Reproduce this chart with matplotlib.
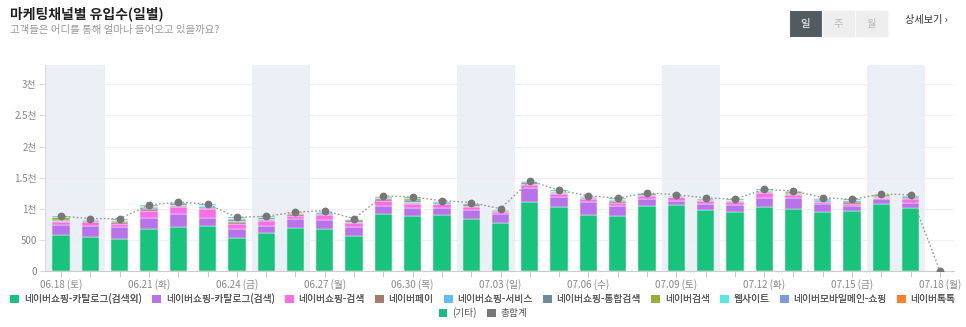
import numpy as np
import matplotlib
matplotlib.use("Agg")
from matplotlib import pyplot as plt
from matplotlib.patches import Rectangle, Patch

plt.rcParams['font.family'] = ['Noto Sans CJK KR', 'DejaVu Sans']

# 일별 유입수 (06.18 ~ 07.18)
dates = ["06.18", "06.19", "06.20", "06.21", "06.22", "06.23", "06.24", "06.25",
         "06.26", "06.27", "06.28", "06.29", "06.30", "07.01", "07.02", "07.03",
         "07.04", "07.05", "07.06", "07.07", "07.08", "07.09", "07.10", "07.11",
         "07.12", "07.13", "07.14", "07.15", "07.16", "07.17", "07.18"]
weekdays = ["토", "일", "월", "화", "수", "목", "금"]

catalog_etc = [584, 547, 515, 681, 702, 724, 525, 611, 691, 675, 557, 922, 884, 900, 836, 772,
               1110, 1029, 906, 884, 1045, 1056, 986, 954, 1029, 997, 954, 959, 1083, 1018, 0]
catalog_search = [156, 182, 187, 166, 215, 134, 145, 118, 140, 145, 151, 129, 124, 113, 145, 145,
                  225, 161, 209, 156, 118, 70, 91, 107, 150, 171, 123, 81, 75, 75, 0]
shop_search = [43, 64, 59, 118, 107, 139, 86, 75, 59, 80, 64, 80, 75, 70, 48, 32,
               43, 54, 37, 59, 48, 59, 43, 43, 70, 49, 38, 43, 21, 65, 0]
npay = [25, 10, 27, 32, 21, 16, 32, 21, 21, 17, 21, 27, 10, 0, 22, 10,
        21, 10, 21, 21, 16, 10, 22, 16, 21, 21, 0, 21, 10, 10, 0]
shop_service = [0, 20, 0, 27, 22, 37, 22, 16, 0, 26, 0, 10, 22, 25, 0, 20,
                0, 0, 16, 0, 0, 0, 0, 0, 10, 0, 21, 32, 0, 43, 0]
shop_total = [15, 12, 15, 10, 21, 0, 21, 22, 16, 10, 22, 21, 20, 10, 21, 11,
              27, 16, 10, 16, 27, 14, 16, 15, 17, 22, 22, 10, 22, 10, 0]
naver_search = [50, 0, 10, 16, 0, 0, 0, 0, 0, 0, 16, 15, 35, 0, 18, 0,
                10, 0, 0, 11, 0, 0, 12, 12, 10, 21, 16, 0, 22, 0, 0]
website = [0, 0, 10, 0, 20, 17, 21, 0, 0, 12, 0, 0, 0, 10, 0, 0,
           8, 15, 0, 10, 0, 16, 0, 0, 0, 0, 0, 0, 0, 0, 0]
mobile_main = [0, 0, 0, 0, 0, 0, 0, 10, 0, 0, 0, 0, 0, 0, 0, 0,
               0, 0, 5, 0, 0, 0, 0, 0, 0, 0, 0, 0, 0, 0, 0]
talktalk = [0, 0, 0, 0, 0, 0, 0, 0, 15, 0, 0, 0, 0, 0, 0, 0,
            0, 0, 0, 0, 0, 0, 0, 0, 0, 0, 0, 0, 0, 0, 0]
others = [7, 7, 17, 10, 0, 8, 8, 7, 3, 5, 9, 6, 20, 2, 10, 10,
          6, 10, 6, 13, 1, 2, 5, 8, 6, 5, 6, 4, 2, 6, 0]
grand_total = [880, 842, 840, 1060, 1108, 1075, 860, 880, 945, 970, 840, 1210, 1190, 1130, 1100, 1000,
               1450, 1295, 1210, 1170, 1255, 1227, 1175, 1155, 1313, 1286, 1180, 1150, 1235, 1227, 0]

series = [
    ("네이버쇼핑-카탈로그(검색외)", catalog_etc, "#18c37c"),
    ("네이버쇼핑-카탈로그(검색)", catalog_search, "#b872ea"),
    ("네이버쇼핑-검색", shop_search, "#f76ee6"),
    ("네이버페이", npay, "#a67b69"),
    ("네이버쇼핑-서비스", shop_service, "#5fbdf2"),
    ("네이버쇼핑-통합검색", shop_total, "#6a8ca1"),
    ("네이버검색", naver_search, "#9aab3b"),
    ("웹사이트", website, "#56e8e6"),
    ("네이버모바일메인-쇼핑", mobile_main, "#7f97df"),
    ("네이버톡톡", talktalk, "#ff7f2b"),
    ("(기타)", others, "#1abf7e"),
]

W, H = 966, 327
fig = plt.figure(figsize=(W / 100, H / 100), dpi=100)
ax = fig.add_axes([45 / W, 1 - 271 / H, (954 - 45) / W, (271 - 65) / H])

x = np.arange(len(dates))

# 주말 음영
for i, d in enumerate(dates):
    if weekdays[i % 7] == "토":
        ax.axvspan(i - 0.5, i + 1.5, color="#ebf0f6", lw=0, zorder=0)

bottom = np.zeros(len(dates))
for name, vals, col in series:
    vals = np.array(vals, dtype=float)
    ax.bar(x, vals, width=0.59, bottom=bottom, color=col, edgecolor="#ffffff",
           linewidth=0.3, zorder=2)
    bottom += vals

ax.plot(x, grand_total, color="#999999", ls=(0, (1.2, 1.6)), lw=1, zorder=3)
ax.plot(x, grand_total, ls="none", marker="o", ms=4.6, color="#777777", zorder=4)

ax.set_xlim(-0.55, len(dates) - 1 + 0.48)
ax.set_ylim(0, 3310)
ax.set_yticks([0, 500, 1000, 1500, 2000, 2500, 3000])
ax.set_yticklabels(["0", "500", "1천", "1.5천", "2천", "2.5천", "3천"])
ax.grid(axis="y", color="#eeeeee", lw=0.8, zorder=1)
ax.set_axisbelow(True)

ax.set_xticks(x)
labels = [f"{d} ({weekdays[i % 7]})" if i % 3 == 0 else "" for i, d in enumerate(dates)]
ax.set_xticklabels(labels)
ax.tick_params(axis="x", length=4, color="#cccccc", labelsize=7, labelcolor="#888888", pad=2)
ax.tick_params(axis="y", length=4, color="#dddddd", labelsize=7, labelcolor="#888888", pad=2)
for s in ["top", "right"]:
    ax.spines[s].set_visible(False)
ax.spines["left"].set_color("#dddddd")
ax.spines["bottom"].set_color("#cccccc")

# 제목
fig.text(10 / W, 1 - 14 / H, "마케팅채널별 유입수(일별)", fontsize=10, color="#222222",
         fontweight="bold", va="center", ha="left")
fig.text(10 / W, 1 - 30 / H, "고객들은 어디를 통해 얼마나 들어오고 있을까요?", fontsize=7.5,
         color="#999999", va="center", ha="left")

# 일/주/월 버튼
for j, (lab, fc, tc) in enumerate([("일", "#525b5f", "#ffffff"), ("주", "#eeeeee", "#bbbbbb"),
                                   ("월", "#eeeeee", "#bbbbbb")]):
    x0 = 789 + j * 33
    fig.add_artist(Rectangle((x0 / W, 1 - 37 / H), 33 / W, 27 / H, transform=fig.transFigure,
                             facecolor=fc, edgecolor="#f8f8f8", lw=0.8))
    fig.text((x0 + 16.5) / W, 1 - 23.5 / H, lab, fontsize=7.5, color=tc, ha="center", va="center")
fig.text(905 / W, 1 - 20 / H, "상세보기 ›", fontsize=7.3, color="#333333", ha="left", va="center")

# 범례
handles = [Patch(facecolor=c, edgecolor="none") for _, _, c in series[:-1]]
names = [n for n, _, _ in series[:-1]]
leg1 = fig.legend(handles, names, loc="center", bbox_to_anchor=(0.500, 1 - 299 / H), ncol=10,
                  frameon=False, fontsize=7.0, handlelength=0.9, handleheight=0.9,
                  handletextpad=0.5, columnspacing=1.05, labelcolor="#555555")
fig.add_artist(leg1)
fig.legend([Patch(facecolor=series[-1][2], edgecolor="none"), Patch(facecolor="#777777", edgecolor="none")],
           [series[-1][0], "총합계"], loc="center", bbox_to_anchor=(0.5, 1 - 313 / H), ncol=2,
           frameon=False, fontsize=7.0, handlelength=0.9, handleheight=0.9,
           handletextpad=0.5, columnspacing=1.05, labelcolor="#555555")

fig.savefig("out.png", dpi=100)
